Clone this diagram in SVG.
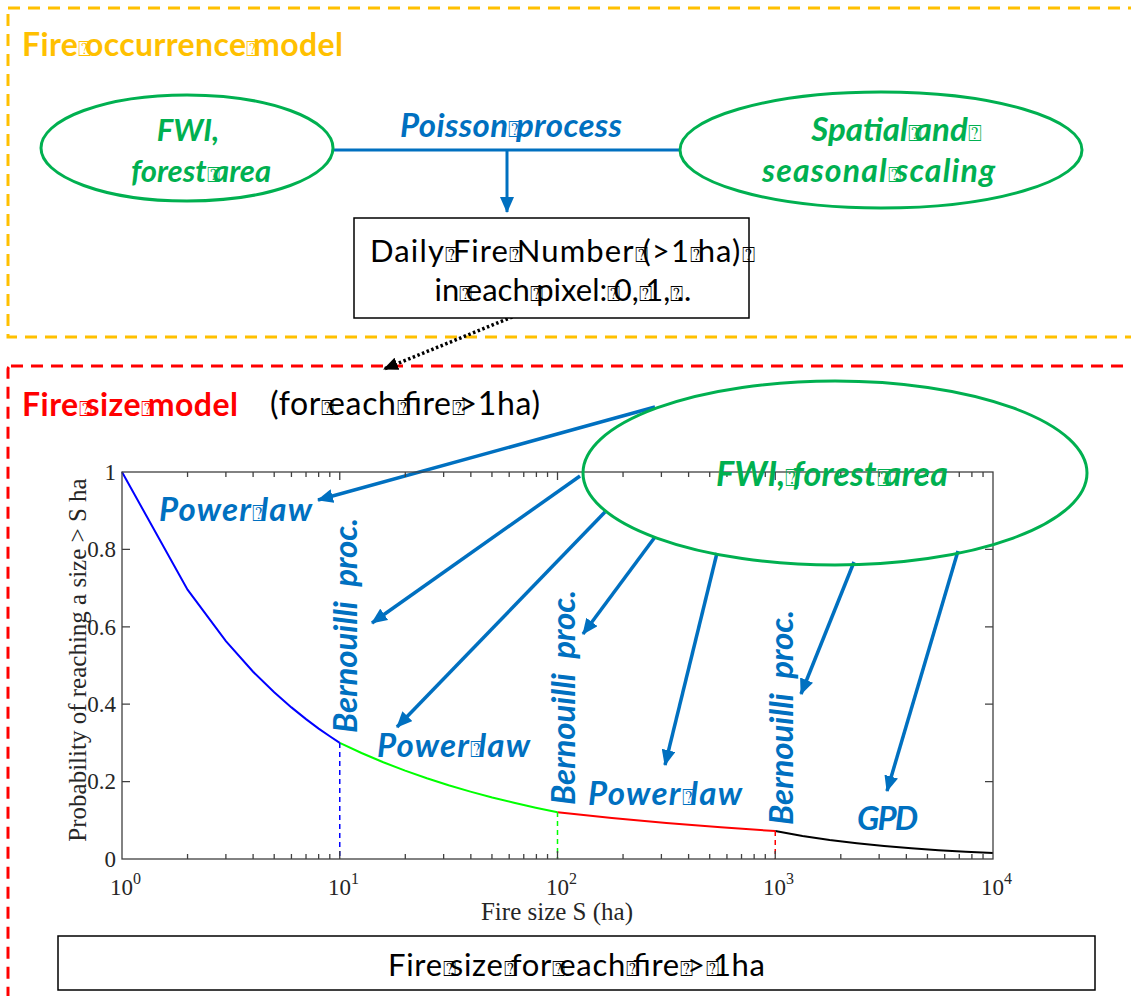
<svg xmlns="http://www.w3.org/2000/svg" width="1131" height="996" viewBox="0 0 1131 996">
<style>
.cal{font-family:Lato,"Liberation Sans",sans-serif}
.bi{font-weight:bold;font-style:italic}
.b{font-weight:bold}
.blue{fill:#0070C0}
.green{fill:#00B050}
.q{font-family:"DejaVu Sans","Noto Sans",sans-serif;font-weight:normal;font-style:normal;font-size:70%;letter-spacing:-0.3em}
.tm{font-family:"Liberation Serif","Times New Roman",serif;fill:#262626}
.ell{fill:none;stroke:#00B050;stroke-width:3}
.arr{stroke:#0070C0;stroke-width:3.5;fill:none;marker-end:url(#ah)}
.box{fill:#fff;stroke:#000;stroke-width:1.5}
</style>
<defs>
<marker id="ah" markerUnits="userSpaceOnUse" markerWidth="16" markerHeight="14" refX="15" refY="7" orient="auto"><path d="M0,0 L16,7 L0,14 z" fill="#0070C0"/></marker>
<marker id="ahk" markerUnits="userSpaceOnUse" markerWidth="15" markerHeight="13" refX="14" refY="6.5" orient="auto"><path d="M0,0 L15,6.5 L0,13 z" fill="#000"/></marker>
</defs>

<g id="occurrence-frame">
<rect x="8" y="8" width="1140" height="329" fill="none" stroke="#FFC000" stroke-width="3" stroke-dasharray="12,8"/>
<text class="cal b" x="22" y="56" font-size="32" textLength="321" fill="#FFC000">Fire<tspan class="q">⍰</tspan>occurrence<tspan class="q">⍰</tspan>model</text>
</g>

<g id="size-frame">
<rect x="8" y="366" width="1140" height="700" rx="3" fill="none" stroke="#FF0000" stroke-width="3" stroke-dasharray="12,8"/>
<text class="cal b" x="22" y="416" font-size="32" textLength="216" fill="#FF0000">Fire<tspan class="q">⍰</tspan>size<tspan class="q">⍰</tspan>model</text>
<text class="cal" x="270" y="415" font-size="32" textLength="270" fill="#000">(for<tspan class="q">⍰</tspan>each<tspan class="q">⍰</tspan>fire<tspan class="q">⍰</tspan>&gt;1ha)</text>
</g>

<g id="connectors">
<path d="M333,150 H680" stroke="#0070C0" stroke-width="3" fill="none"/>
<path d="M507,150 V212" stroke="#0070C0" stroke-width="3" fill="none" marker-end="url(#ah)"/>
<path d="M517,315 L384,369" stroke="#000" stroke-width="3.5" stroke-dasharray="2.5,2.5" fill="none" marker-end="url(#ahk)"/>
<path class="arr" d="M655,407 L318,500"/>
<path class="arr" d="M580,476 L372,623"/>
<path class="arr" d="M605,512 L397,727"/>
<path class="arr" d="M655,537 L583,634"/>
<path class="arr" d="M717,553 L665,765"/>
<path class="arr" d="M854,562 L801,694"/>
<path class="arr" d="M958,551 L887,791"/>
</g>

<g id="poisson-label">
<text class="cal bi blue" x="400" y="137" font-size="33" textLength="222">Poisson<tspan class="q">⍰</tspan>process</text>
</g>

<g id="fwi-forest">
<ellipse class="ell" cx="187" cy="148" rx="146" ry="53"/>
<text class="cal bi green" x="188" y="141" font-size="31" text-anchor="middle">FWI,</text>
<text class="cal bi green" x="201" y="182" font-size="31" text-anchor="middle">forest<tspan class="q">⍰</tspan>area</text>
</g>

<g id="scaling">
<ellipse class="ell" cx="881" cy="150" rx="201" ry="58"/>
<text class="cal bi green" x="893" y="141" font-size="33" text-anchor="middle">Spatial<tspan class="q">⍰</tspan>and<tspan class="q">⍰</tspan></text>
<text class="cal bi green" x="762" y="182" font-size="32" textLength="233">seasonal<tspan class="q">⍰</tspan>scaling</text>
</g>

<g id="daily-box">
<rect class="box" x="354" y="218" width="395" height="100"/>
<text class="cal" x="370" y="262" font-size="31" textLength="378" fill="#000">Daily<tspan class="q">⍰</tspan>Fire<tspan class="q">⍰</tspan>Number<tspan class="q">⍰</tspan>(&gt;1<tspan class="q">⍰</tspan>ha)<tspan class="q">⍰</tspan></text>
<text class="cal" x="563" y="301" font-size="31" text-anchor="middle" fill="#000">in<tspan class="q">⍰</tspan>each<tspan class="q">⍰</tspan>pixel:<tspan class="q">⍰</tspan>0,<tspan class="q">⍰</tspan>1,<tspan class="q">⍰</tspan>..</text>
</g>

<g id="chart">
<g fill="none" stroke-width="2">
<path d="M122,472 L187.55,589.7 L225.89,641.1 L253.1,671.7 L274.2,692.2 L291.44,707.4 L306.02,719.1 L318.65,728.6 L329.79,736.3 L339.75,742.9" stroke="#0000FF"/>
<path d="M339.75,742.9 L361.5,753 L383.3,762.2 L405.1,770.6 L426.85,778.2 L448.6,785.2 L470.4,791.6 L492.2,797.5 L514,802.8 L535.7,807.7 L557.5,812.2" stroke="#00FF00"/>
<path d="M557.5,812.2 L611.9,817.9 L666.4,822.9 L720.8,827.3 L775.25,831.1" stroke="#FF0000"/>
<path d="M775.25,831.1 L802.5,836 L829.7,840 L856.9,843.3 L884.1,846.1 L911.3,848.3 L938.6,850.2 L965.8,851.7 L993,853" stroke="#000"/>
</g>
<g fill="none" stroke-width="1.5" stroke-dasharray="5,4">
<path d="M339.75,743 V859" stroke="#0000FF"/>
<path d="M557.5,812 V859" stroke="#00FF00"/>
<path d="M775.25,831 V859" stroke="#FF0000"/>
</g>
<g fill="none" stroke="#404040" stroke-width="1.3">
<rect x="122" y="472" width="871" height="387"/>
<path d="M339.75,859 v-8 M557.5,859 v-8 M775.25,859 v-8 M339.75,472 v8 M557.5,472 v8 M775.25,472 v8
M187.55,859v-5M225.89,859v-5M253.1,859v-5M274.2,859v-5M291.44,859v-5M306.02,859v-5M318.65,859v-5M329.79,859v-5
M405.3,859v-5M443.64,859v-5M470.85,859v-5M491.95,859v-5M509.19,859v-5M523.77,859v-5M536.4,859v-5M547.54,859v-5
M623.05,859v-5M661.39,859v-5M688.6,859v-5M709.7,859v-5M726.94,859v-5M741.52,859v-5M754.15,859v-5M765.29,859v-5
M840.8,859v-5M879.14,859v-5M906.35,859v-5M927.45,859v-5M944.69,859v-5M959.27,859v-5M971.9,859v-5M983.04,859v-5
M187.55,472v5M225.89,472v5M253.1,472v5M274.2,472v5M291.44,472v5M306.02,472v5M318.65,472v5M329.79,472v5
M405.3,472v5M443.64,472v5M470.85,472v5M491.95,472v5M509.19,472v5M523.77,472v5M536.4,472v5M547.54,472v5
M623.05,472v5M661.39,472v5M688.6,472v5M709.7,472v5M726.94,472v5M741.52,472v5M754.15,472v5M765.29,472v5
M840.8,472v5M879.14,472v5M906.35,472v5M927.45,472v5M944.69,472v5M959.27,472v5M971.9,472v5M983.04,472v5
M122,549.4h8M122,626.8h8M122,704.2h8M122,781.6h8
M993,549.4h-8M993,626.8h-8M993,704.2h-8M993,781.6h-8"/>
</g>
<g class="tm" font-size="23" text-anchor="end">
<text x="116" y="480">1</text>
<text x="116" y="557">0.8</text>
<text x="116" y="635">0.6</text>
<text x="116" y="712">0.4</text>
<text x="116" y="789">0.2</text>
<text x="116" y="867">0</text>
</g>
<g class="tm" font-size="23">
<text x="110" y="895">10<tspan dy="-11" font-size="16">0</tspan></text>
<text x="328" y="895">10<tspan dy="-11" font-size="16">1</tspan></text>
<text x="546" y="895">10<tspan dy="-11" font-size="16">2</tspan></text>
<text x="763" y="895">10<tspan dy="-11" font-size="16">3</tspan></text>
<text x="981" y="895">10<tspan dy="-11" font-size="16">4</tspan></text>
</g>
<text class="tm" x="557" y="920" font-size="25" text-anchor="middle">Fire size S (ha)</text>
<text class="tm" font-size="25" text-anchor="middle" transform="translate(86,660) rotate(-90)">Probability of reaching a size &gt; S ha</text>
</g>

<g id="fwi-forest-2">
<ellipse class="ell" cx="835" cy="473" rx="252" ry="92" fill="#fff"/>
<text class="cal bi green" x="716" y="486" font-size="34" textLength="232">FWI,<tspan class="q">⍰</tspan>forest<tspan class="q">⍰</tspan>area</text>
</g>

<g id="segment-labels" class="cal bi blue" font-size="33">
<text x="159" y="521" textLength="153">Power<tspan class="q">⍰</tspan>law</text>
<text x="377" y="757" textLength="153">Power<tspan class="q">⍰</tspan>law</text>
<text x="588" y="805" textLength="154">Power<tspan class="q">⍰</tspan>law</text>
<text x="857" y="830" textLength="61">GPD</text>
<text transform="translate(357,733) rotate(-90)" textLength="215">Bernouilli&#160; proc.</text>
<text transform="translate(575,805) rotate(-90)" textLength="215">Bernouilli&#160; proc.</text>
<text transform="translate(793,825) rotate(-90)" textLength="215">Bernouilli&#160; proc.</text>
</g>

<g id="result-box">
<rect class="box" x="58" y="936" width="1037" height="54"/>
<text class="cal" x="388" y="976" font-size="31" textLength="377" fill="#000">Fire<tspan class="q">⍰</tspan>size<tspan class="q">⍰</tspan>for<tspan class="q">⍰</tspan>each<tspan class="q">⍰</tspan>fire<tspan class="q">⍰</tspan>&gt;<tspan class="q">⍰</tspan>1ha</text>
</g>
</svg>
